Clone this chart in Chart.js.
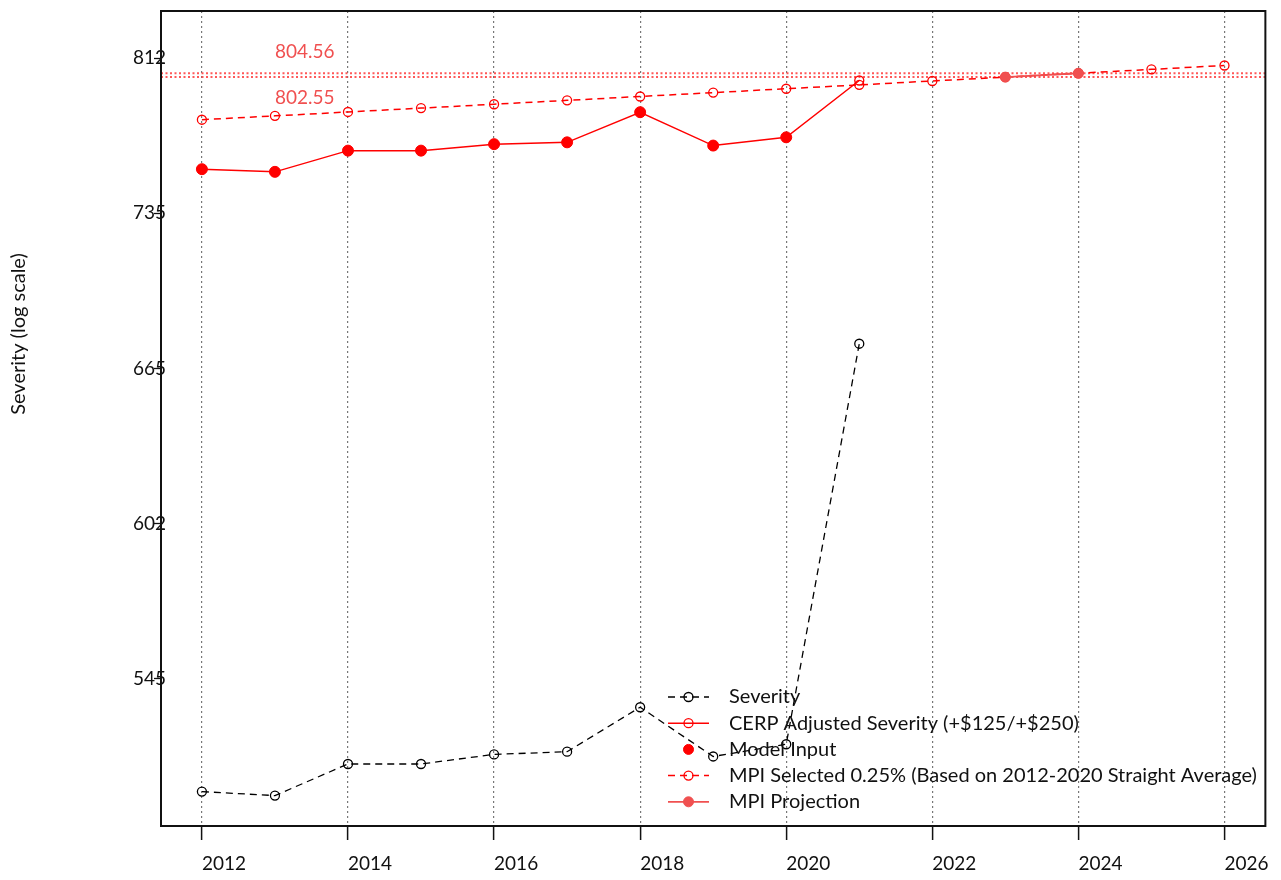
<!DOCTYPE html>
<html>
<head>
<meta charset="utf-8">
<script src="https://cdn.jsdelivr.net/npm/chart.js@4.4.0/dist/chart.umd.min.js"></script>
<style>
  html, body { margin: 0; padding: 0; background: #fff; }
  canvas { display: block; }
</style>
</head>
<body>
<canvas id="chart" width="1281" height="880"></canvas>
<script>
// values
const severityYears = [2012, 2013, 2014, 2015, 2016, 2017, 2018, 2019, 2020, 2021];
const severity = [506.3, 505.0, 515.4, 515.4, 518.6, 519.5, 534.6, 517.9, 522.0, 675.8];

const cerpYears = [2012, 2013, 2014, 2015, 2016, 2017, 2018, 2019, 2020, 2021];
const cerpAdjusted = [756.3, 755.0, 765.4, 765.4, 768.6, 769.5, 784.6, 767.9, 772.0, 800.8];

const modelInputYears = [2012, 2013, 2014, 2015, 2016, 2017, 2018, 2019, 2020];
const modelInput = [756.3, 755.0, 765.4, 765.4, 768.6, 769.5, 784.6, 767.9, 772.0];

const mpiYears = [2012, 2013, 2014, 2015, 2016, 2017, 2018, 2019, 2020, 2021, 2022, 2023, 2024, 2025, 2026];
const mpiSelected = [780.80, 782.75, 784.71, 786.67, 788.64, 790.61, 792.59, 794.57, 796.56, 798.55, 800.55, 802.55, 804.56, 806.57, 808.58];

const projectionYears = [2023, 2024];
const mpiProjection = [802.55, 804.56];

const refValues = [804.56, 802.55];
const refLabels = ['804.56', '802.55'];
const refLabelYear = 2013;

const xTicks = [2012, 2014, 2016, 2018, 2020, 2022, 2024, 2026];
const yTickValues = [544.57, 601.85, 665.14, 735.10, 812.41];
const yTickLabels = ['545', '602', '665', '735', '812'];

const RED = '#ff0000';
const LIGHT_RED = '#f05050';
const FONT = 'Lato, "Open Sans", sans-serif';

const pts = (xs, ys) => xs.map((x, i) => ({ x: x, y: ys[i] }));

Chart.defaults.font.family = FONT;
Chart.defaults.font.size = 19;
Chart.defaults.color = '#111';

const extras = {
    id: 'extras',
    beforeDatasetsDraw(chart) {
        const { ctx, chartArea } = chart;
        const xs = chart.scales.x, ys = chart.scales.y;
        ctx.save();
        // reference lines + labels
        ctx.strokeStyle = 'rgba(255,70,70,0.9)';
        ctx.lineWidth = 2;
        ctx.setLineDash([2, 2.5]);
        refValues.forEach(v => {
            const y = ys.getPixelForValue(v);
            ctx.beginPath();
            ctx.moveTo(chartArea.left, y);
            ctx.lineTo(chartArea.right, y);
            ctx.stroke();
        });
        ctx.setLineDash([]);
        ctx.fillStyle = LIGHT_RED;
        ctx.font = '19px ' + FONT;
        ctx.textAlign = 'left';
        ctx.textBaseline = 'middle';
        refValues.forEach((v, i) => {
            const y = ys.getPixelForValue(v) + (i === 0 ? -21 : 21);
            ctx.fillText(refLabels[i], xs.getPixelForValue(refLabelYear), y);
        });
        ctx.restore();
    },
    afterDatasetsDraw(chart) {
        const { ctx, chartArea } = chart;
        ctx.save();
        // frame
        ctx.strokeStyle = '#111';
        ctx.lineWidth = 2;
        ctx.strokeRect(chartArea.left, chartArea.top, chartArea.right - chartArea.left, chartArea.bottom - chartArea.top);

        // y axis title
        ctx.fillStyle = '#111';
        ctx.font = '20px ' + FONT;
        ctx.translate(19, 334);
        ctx.rotate(-Math.PI / 2);
        ctx.textAlign = 'center';
        ctx.textBaseline = 'middle';
        ctx.fillText('Severity (log scale)', 0, 0);
        ctx.restore();

        // legend inside plot
        ctx.save();
        const lx0 = 668, lx1 = 709, mx = 688.5, tx = 729, ty = 697, rowH = 26.2;
        ctx.font = '20px ' + FONT;
        ctx.textBaseline = 'middle';
        ctx.textAlign = 'left';
        chart.data.datasets.forEach((ds, i) => {
            const y = ty + i * rowH;
            if (ds.showLine !== false) {
                ctx.strokeStyle = ds.borderColor;
                ctx.lineWidth = ds.borderWidth;
                ctx.setLineDash(ds.borderDash || []);
                ctx.beginPath();
                ctx.moveTo(lx0, y);
                ctx.lineTo(lx1, y);
                ctx.stroke();
                ctx.setLineDash([]);
            }
            ctx.beginPath();
            ctx.arc(mx, y, Math.min(ds.pointRadius, 5), 0, Math.PI * 2);
            if (ds.pointBackgroundColor !== 'rgba(0,0,0,0)') {
                ctx.fillStyle = ds.pointBackgroundColor;
                ctx.fill();
            }
            ctx.strokeStyle = ds.pointBorderColor;
            ctx.lineWidth = ds.pointBorderWidth;
            ctx.stroke();
            ctx.fillStyle = '#111';
            ctx.fillText(ds.label, tx, y);
        });
        ctx.restore();
    }
};

new Chart(document.getElementById('chart'), {
    type: 'line',
    data: {
        datasets: [
            {
                label: 'Severity',
                data: pts(severityYears, severity),
                borderColor: '#000', borderWidth: 1.3, borderDash: [7, 5],
                pointRadius: 4.5, pointBorderWidth: 1.3,
                pointBorderColor: '#000', pointBackgroundColor: 'rgba(0,0,0,0)',
                order: 5
            },
            {
                label: 'CERP Adjusted Severity (+$125/+$250)',
                data: pts(cerpYears, cerpAdjusted),
                borderColor: RED, borderWidth: 1.5,
                pointRadius: 4.5, pointBorderWidth: 1.3,
                pointBorderColor: RED, pointBackgroundColor: 'rgba(0,0,0,0)',
                order: 4
            },
            {
                label: 'Model Input',
                data: pts(modelInputYears, modelInput),
                showLine: false,
                borderColor: RED, borderWidth: 0,
                pointRadius: 5.5, pointBorderWidth: 1,
                pointBorderColor: RED, pointBackgroundColor: RED,
                order: 1
            },
            {
                label: 'MPI Selected 0.25% (Based on 2012-2020 Straight Average)',
                data: pts(mpiYears, mpiSelected),
                borderColor: RED, borderWidth: 1.5, borderDash: [7, 5],
                pointRadius: 4.5, pointBorderWidth: 1.3,
                pointBorderColor: RED, pointBackgroundColor: 'rgba(0,0,0,0)',
                order: 3
            },
            {
                label: 'MPI Projection',
                data: pts(projectionYears, mpiProjection),
                borderColor: LIGHT_RED, borderWidth: 1.8,
                pointRadius: 5, pointBorderWidth: 1,
                pointBorderColor: LIGHT_RED, pointBackgroundColor: LIGHT_RED,
                order: 2
            }
        ]
    },
    options: {
        responsive: false,
        animation: false,
        elements: { line: { tension: 0 } },
        layout: { padding: { top: 11, right: 12, left: 0, bottom: 0 } },
        plugins: { legend: { display: false }, tooltip: { enabled: false } },
        scales: {
            x: {
                type: 'linear', min: 2011.44, max: 2026.56, bounds: 'data',
                afterBuildTicks: s => { s.ticks = xTicks.map(v => ({ value: v })); },
                afterFit: s => { s.height = 54; },
                grid: { color: '#777', lineWidth: 1.2, tickColor: '#111', tickLength: 14, tickWidth: 1.5, tickBorderDash: [] },
                border: { display: false, dash: [2, 3] },
                ticks: { align: 'start', padding: 12, maxRotation: 0, autoSkip: false, callback: v => String(v) }
            },
            y: {
                type: 'logarithmic', min: 495.2, max: 837.5, bounds: 'data',
                afterBuildTicks: s => { s.ticks = yTickValues.map(v => ({ value: v })); },
                afterFit: s => { s.width = 161; },
                grid: { drawOnChartArea: false, tickColor: '#111', tickLength: 7, tickWidth: 1.3 },
                border: { display: false },
                ticks: { mirror: true, padding: -28, autoSkip: false, callback: (v, i) => yTickLabels[i] }
            }
        }
    },
    plugins: [extras]
});
</script>
</body>
</html>
